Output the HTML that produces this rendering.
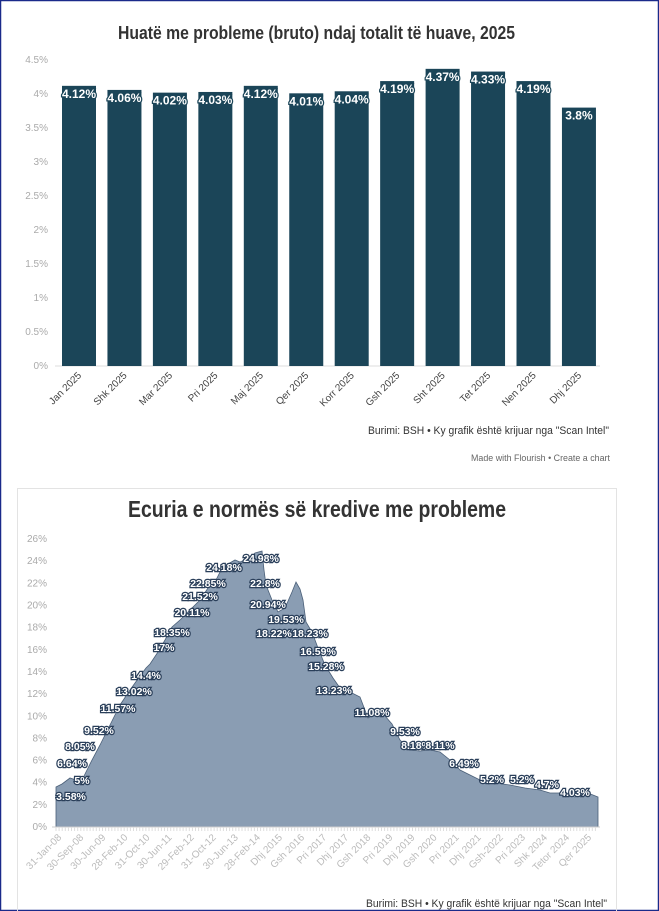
<!DOCTYPE html>
<html><head><meta charset="utf-8"><style>
body{margin:0;background:#fff}
svg{display:block}
.t{font-family:"Liberation Sans Narrow","Liberation Sans",sans-serif}
</style></head><body>
<svg width="659" height="911" viewBox="0 0 659 911" xmlns="http://www.w3.org/2000/svg" class="t">
<rect x="0.5" y="0.5" width="658" height="910" fill="#fff" stroke="#1a2a8a" stroke-width="1.5"/>
<text x="118" y="39" textLength="397" lengthAdjust="spacingAndGlyphs" font-size="18" font-weight="bold" fill="#333">Huatë me probleme (bruto) ndaj totalit të huave, 2025</text>
<g font-size="10" fill="#aaa" text-anchor="end">
<text x="48" y="63">4.5%</text><text x="48" y="97">4%</text><text x="48" y="131">3.5%</text><text x="48" y="165">3%</text><text x="48" y="199">2.5%</text><text x="48" y="233">2%</text><text x="48" y="267">1.5%</text><text x="48" y="301">1%</text><text x="48" y="335">0.5%</text><text x="48" y="369">0%</text>
</g>
<line x1="55" y1="366" x2="600" y2="366" stroke="#ddd"/>
<g fill="#1b4558" id="bars"></g>
<g id="blabels" font-size="12" font-weight="bold" fill="#fff" stroke="#1b4558" stroke-width="2.5" paint-order="stroke" text-anchor="middle"></g>
<g id="bx" font-size="10" fill="#444" text-anchor="end"></g>
<text x="368" y="434" textLength="241" lengthAdjust="spacingAndGlyphs" font-size="11" fill="#333">Burimi: BSH • Ky grafik është krijuar nga "Scan Intel"</text>
<text x="471" y="461" textLength="139" lengthAdjust="spacingAndGlyphs" font-size="9" fill="#666">Made with Flourish • Create a chart</text>

<rect x="17.5" y="488.5" width="599" height="430" fill="none" stroke="#e3e3e3"/>
<text x="128" y="517" textLength="378" lengthAdjust="spacingAndGlyphs" font-size="23" font-weight="bold" fill="#333">Ecuria e normës së kredive me probleme</text>
<g id="ly" font-size="10" fill="#aaa" text-anchor="end"></g>
<path d="M56,787 L62,784 L70,778 L76,780 L80,784 L86,772 L92,760 L100,745 L110,725 L120,705 L130,690 L140,676 L146,668 L150,664 L158,652 L165,640 L172,627 L180,620 L190,610 L200,600 L208,588 L215,582 L220,572 L228,564 L235,560 L240,562 L250,558 L255,553 L262,551 L264,570 L266,585 L272,600 L278,612 L285,608 L292,592 L296,582 L300,589 L303,600 L306,622 L312,632 L318,648 L325,665 L333,678 L340,688 L350,692 L360,697 L368,718 L375,714 L385,716 L392,724 L400,740 L410,750 L420,751 L430,750 L440,752 L450,760 L460,770 L470,775 L480,780 L495,783 L510,785 L525,788 L540,790 L550,793 L560,793 L575,797 L588,793 L598,797 L598,827 L56,827 Z" fill="#8a9db3" stroke="#4a5f78" stroke-width="0.8"/>
<line x1="52" y1="827" x2="600" y2="827" stroke="#ccc"/>
<g id="ticks" stroke="#ddd"></g>
<g font-size="10.5" font-weight="bold" fill="#fff" stroke="#2a3f5a" stroke-width="2.5" paint-order="stroke" text-anchor="middle">
<text x="71" y="800">3.58%</text><text x="82" y="784">5%</text><text x="72" y="767">6.64%</text><text x="80" y="750">8.05%</text><text x="99" y="734">9.52%</text><text x="118" y="712">11.57%</text><text x="134" y="695">13.02%</text><text x="146" y="679">14.4%</text><text x="164" y="651">17%</text><text x="172" y="636">18.35%</text><text x="192" y="616">20.11%</text><text x="200" y="600">21.52%</text><text x="208" y="587">22.85%</text><text x="224" y="571">24.18%</text><text x="261" y="562">24.98%</text><text x="265" y="587">22.8%</text><text x="268" y="608">20.94%</text><text x="286" y="623">19.53%</text><text x="274" y="637">18.22%</text><text x="310" y="637">18.23%</text><text x="318" y="655">16.59%</text><text x="326" y="670">15.28%</text><text x="334" y="694">13.23%</text><text x="372" y="716">11.08%</text><text x="405" y="735">9.53%</text><text x="416" y="749">8.18%</text><text x="440" y="749">8.11%</text><text x="464" y="767">6.49%</text><text x="492" y="783">5.2%</text><text x="522" y="783">5.2%</text><text x="547" y="788">4.7%</text><text x="575" y="796">4.03%</text>
</g>
<g id="lx" font-size="10" fill="#bbb" text-anchor="end"></g>
<text x="366" y="907" textLength="241" lengthAdjust="spacingAndGlyphs" font-size="11" fill="#333">Burimi: BSH • Ky grafik është krijuar nga "Scan Intel"</text>
</svg>
<script>
var NS="http://www.w3.org/2000/svg";
function el(p,t,a,txt){var e=document.createElementNS(NS,t);for(var k in a)e.setAttribute(k,a[k]);if(txt!=null)e.textContent=txt;document.getElementById(p).appendChild(e);}
var v=[4.12,4.06,4.02,4.03,4.12,4.01,4.04,4.19,4.37,4.33,4.19,3.8];
var m=["Jan 2025","Shk 2025","Mar 2025","Pri 2025","Maj 2025","Qer 2025","Korr 2025","Gsh 2025","Sht 2025","Tet 2025","Nen 2025","Dhj 2025"];
for(var i=0;i<12;i++){var x=62+i*45.45,cx=x+17,y=366-v[i]*68;
el("bars","rect",{x:x,y:y,width:34,height:366-y});
el("blabels","text",{x:cx,y:y+12},v[i]+"%");
el("bx","text",{x:cx+3,y:376,transform:"rotate(-45 "+(cx+3)+" 376)"},m[i]);}
for(var j=0;j<=13;j++){var yy=827-j*22.15;el("ly","text",{x:47,y:yy+3},(j*2)+"%");}
for(var x=56;x<=598;x+=3.1)el("ticks","line",{x1:x,y1:827,x2:x,y2:831});
var L=["31-Jan-08","30-Sep-08","30-Jun-09","28-Feb-10","31-Oct-10","30-Jun-11","29-Feb-12","31-Oct-12","30-Jun-13","28-Feb-14","Dhj 2015","Gsh 2016","Pri 2017","Dhj 2017","Gsh 2018","Pri 2019","Dhj 2019","Gsh 2020","Pri 2021","Dhj 2021","Gsh-2022","Pri 2023","Shk 2024","Tetor 2024","Qer 2025"];
var n=L.length;for(var i=0;i<n;i++){var x=62+i*(530/(n-1));el("lx","text",{x:x,y:838,transform:"rotate(-45 "+x+" 838)"},L[i]);}
</script>
</body></html>
